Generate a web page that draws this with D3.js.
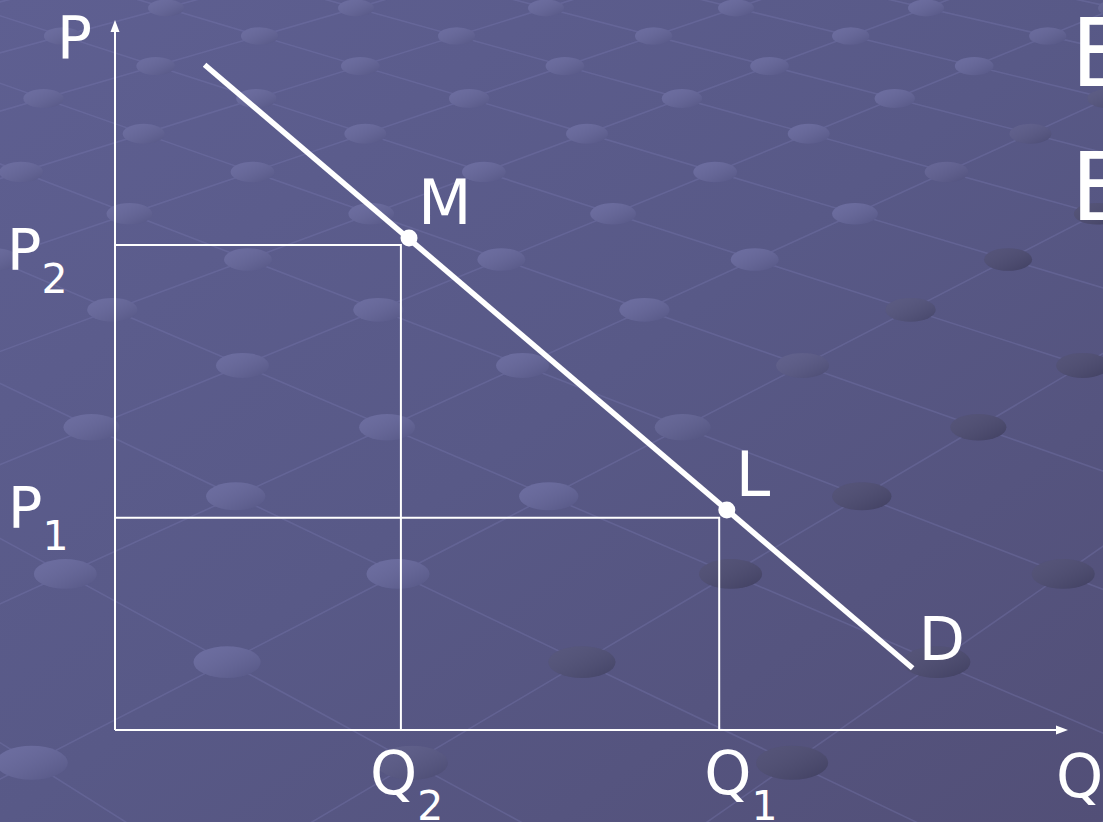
<!DOCTYPE html>
<html lang="en">
<head>
    <meta charset="UTF-8">
    <title>Demand curve</title>
    <script src="https://d3js.org/d3.v7.min.js"></script>
    <style>
        html, body { margin: 0; padding: 0; background: #57588a; overflow: hidden; }
        svg { display: block; }
        .lbl { font-family: "DejaVu Sans", Verdana, sans-serif; fill: #ffffff; }
    </style>
</head>
<body>
    <svg id="chart" width="1103" height="822"></svg>

    <script>
        // quantities and prices (0-100 units along each axis)
        const qTicks = [
            { name: "Q", sub: "2", q: 30.0 },
            { name: "Q", sub: "1", q: 63.4 }
        ];
        const pTicks = [
            { name: "P", sub: "2", p: 68.3 },
            { name: "P", sub: "1", p: 29.9 }
        ];
        // demand line end points
        const demandQ = [9.4, 83.7];
        const demandP = [93.7, 8.7];
        // marked points on the demand line
        const pointNames = ["M", "L"];
        const pointQ = [30.85, 64.2];
        const pointP = [69.3, 31.0];

        const W = 1103, H = 822;
        const x = d3.scaleLinear().domain([0, 100]).range([115, 1068]);
        const y = d3.scaleLinear().domain([0, 100]).range([730, 20]);

        const svg = d3.select("#chart");
        const defs = svg.append("defs");

        // background
        const bg = defs.append("linearGradient").attr("id", "bg")
            .attr("x1", 0).attr("y1", 0).attr("x2", 1).attr("y2", 1);
        bg.append("stop").attr("offset", "0%").attr("stop-color", "#5e5f91");
        bg.append("stop").attr("offset", "50%").attr("stop-color", "#585987");
        bg.append("stop").attr("offset", "100%").attr("stop-color", "#524f77");
        svg.append("rect").attr("width", W).attr("height", H).attr("fill", "url(#bg)");

        const shine = defs.append("linearGradient").attr("id", "shine")
            .attr("x1", 0).attr("y1", 0).attr("x2", 1).attr("y2", 1);
        shine.append("stop").attr("offset", "0%").attr("stop-color", "#fff").attr("stop-opacity", 0.06);
        shine.append("stop").attr("offset", "100%").attr("stop-color", "#000").attr("stop-opacity", 0.14);

        // decorative network texture: a rhombic lattice on a plane seen in perspective
        const horizon = 746, depthRef = 754, rowStep = 4.739e-5;
        const cell = 190, cx = 550, drift = 0.047, phase = -0.021;
        const rowY = k => 1 / (1 / depthRef - rowStep * k) - horizon;
        const project = (X, k) => {
            const yy = rowY(k);
            const s = (yy + horizon) / depthRef;
            return { x: cx + X * cell * s, y: yy, s };
        };

        const lines = [];
        for (let a = -14; a <= 14; a++) {
            [0.5, -0.5].forEach(dir => {
                const p0 = project(a + phase + (dir + drift) * -4, -4);
                const p1 = project(a + phase + (dir + drift) * 17, 17);
                lines.push([p0, p1]);
            });
        }
        const nodes = [];
        for (let k = -3; k <= 16; k++) {
            for (let j = -10; j <= 10; j++) {
                const p = project(j + 0.5 * (Math.abs(k) % 2) + drift * k + phase, k);
                if (p.x > -60 && p.x < W + 60 && p.y > -30 && p.y < H + 40) nodes.push(p);
            }
        }

        const tex = svg.append("g").attr("class", "texture");
        tex.selectAll("line").data(lines).join("line")
            .attr("x1", d => d[0].x).attr("y1", d => d[0].y)
            .attr("x2", d => d[1].x).attr("y2", d => d[1].y)
            .attr("stroke", "#7c7db4").attr("stroke-opacity", 0.32).attr("stroke-width", 1.6);

        const dotColor = d3.interpolateRgb("#63649a", "#4a4970");
        const dots = tex.selectAll("g.dot").data(nodes).join("g").attr("class", "dot");
        dots.append("ellipse")
            .attr("cx", d => d.x).attr("cy", d => d.y)
            .attr("rx", d => 18 * d.s).attr("ry", d => 8.5 * d.s)
            .attr("fill", d => dotColor(Math.max(0, Math.min(1, (d.x + d.y - 1070) / 200))));
        dots.append("ellipse")
            .attr("cx", d => d.x).attr("cy", d => d.y)
            .attr("rx", d => 18 * d.s).attr("ry", d => 8.5 * d.s)
            .attr("fill", "url(#shine)");

        // axes
        const g = svg.append("g");
        g.append("line")
            .attr("x1", x(0)).attr("y1", y(0)).attr("x2", x(0)).attr("y2", y(100) + 10)
            .attr("stroke", "#fff").attr("stroke-width", 2);
        g.append("line")
            .attr("x1", x(0)).attr("y1", y(0)).attr("x2", x(100) - 10).attr("y2", y(0))
            .attr("stroke", "#fff").attr("stroke-width", 2);
        g.append("path")
            .attr("d", `M${x(0)},${y(100)} l-4.5,12 l9,0 Z`)
            .attr("fill", "#fff");
        g.append("path")
            .attr("d", `M${x(100)},${y(0)} l-12,-4.5 l0,9 Z`)
            .attr("fill", "#fff");

        // droplines
        pTicks.forEach((pt, k) => {
            const qt = qTicks[k];
            g.append("path")
                .attr("d", `M${x(0)},${y(pt.p)} H${x(qt.q)} V${y(0)}`)
                .attr("fill", "none").attr("stroke", "#fff").attr("stroke-width", 2);
        });

        // demand curve
        g.append("line")
            .attr("x1", x(demandQ[0])).attr("y1", y(demandP[0]))
            .attr("x2", x(demandQ[1])).attr("y2", y(demandP[1]))
            .attr("stroke", "#fff").attr("stroke-width", 5.5);

        // points
        g.selectAll("circle.pt").data(pointNames).join("circle")
            .attr("class", "pt")
            .attr("cx", (d, i) => x(pointQ[i])).attr("cy", (d, i) => y(pointP[i]))
            .attr("r", 8.5).attr("fill", "#fff");

        // labels
        const labels = svg.append("g");
        function subLabel(tx, ty, name, sub, size, subSize, subDy) {
            const t = labels.append("text").attr("class", "lbl")
                .attr("x", tx).attr("y", ty).style("font-size", size + "px");
            t.append("tspan").text(name);
            t.append("tspan").attr("dy", subDy).style("font-size", subSize + "px").text(sub);
        }
        // axis titles
        labels.append("text").attr("class", "lbl").attr("x", 57).attr("y", 58)
            .style("font-size", "58px").text("P");
        labels.append("text").attr("class", "lbl").attr("x", 1056).attr("y", 797)
            .style("font-size", "60px").text("Q");

        subLabel(7, y(pTicks[0].p) + 25, pTicks[0].name, pTicks[0].sub, 57, 41, 23);
        subLabel(8, y(pTicks[1].p) + 10, pTicks[1].name, pTicks[1].sub, 57, 41, 22);
        subLabel(x(qTicks[0].q) - 31, y(0) + 64, qTicks[0].name, qTicks[0].sub, 60, 41, 26);
        subLabel(x(qTicks[1].q) - 15, y(0) + 64, qTicks[1].name, qTicks[1].sub, 60, 41, 26);

        labels.selectAll("text.pname").data(pointNames).join("text")
            .attr("class", "lbl pname")
            .attr("x", (d, i) => x(pointQ[i]) + 9)
            .attr("y", (d, i) => y(pointP[i]) - 14)
            .style("font-size", "62px")
            .text(d => d);

        labels.append("text").attr("class", "lbl")
            .attr("x", x(demandQ[1]) + 6).attr("y", y(demandP[1]) - 8)
            .style("font-size", "60px").text("D");

        // cut-off slide text at the right edge
        labels.append("text").attr("class", "lbl").attr("x", 1071).attr("y", 86)
            .style("font-size", "94px").text("E");
        labels.append("text").attr("class", "lbl").attr("x", 1071).attr("y", 220)
            .style("font-size", "94px").text("E");
    </script>
</body>
</html>
